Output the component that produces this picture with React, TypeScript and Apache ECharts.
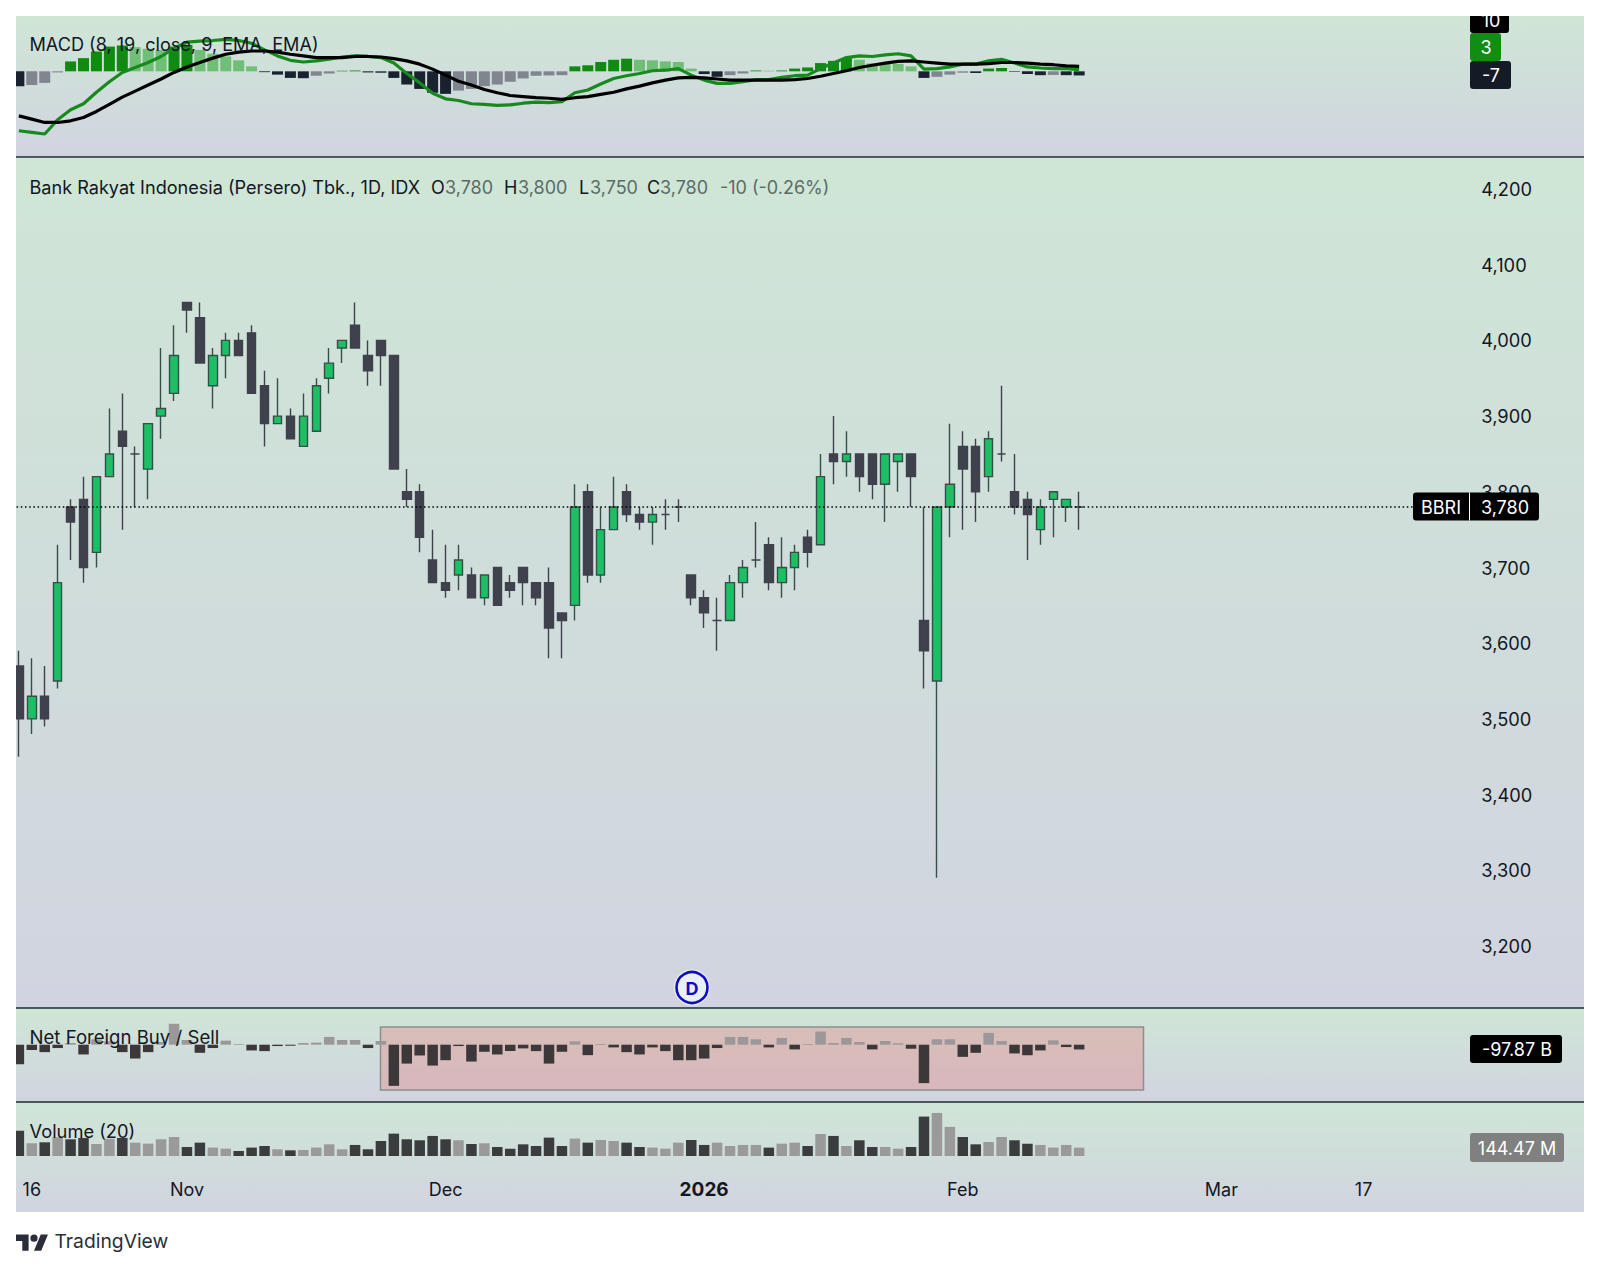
import React, { useEffect, useRef } from "react";
import * as echarts from "echarts";

const open = [3570,3500,3530,3550,3780,3790,3720,3820,3880,3850,3830,3900,3930,4050,4030,3940,3980,4000,4010,3940,3890,3900,3860,3880,3950,3990,4020,3980,4000,3980,3800,3800,3710,3680,3690,3690,3660,3700,3680,3700,3680,3680,3640,3650,3800,3690,3750,3800,3770,3760,3770,3780,3690,3660,3630,3630,3680,3710,3730,3680,3700,3740,3730,3850,3840,3850,3850,3810,3840,3850,3630,3550,3780,3860,3860,3820,3850,3800,3790,3750,3790,3780,3780];
const high = [3590,3580,3570,3730,3790,3820,3820,3910,3930,3860,3890,3990,4020,4050,4050,3990,4010,4010,4020,3960,3950,3910,3930,3950,3990,4000,4050,4000,4000,3980,3830,3810,3750,3730,3730,3700,3690,3700,3690,3700,3680,3700,3640,3810,3810,3780,3820,3810,3780,3780,3790,3790,3690,3670,3660,3690,3710,3760,3740,3740,3730,3750,3850,3900,3880,3850,3850,3850,3850,3850,3780,3780,3890,3880,3870,3880,3940,3850,3800,3790,3800,3790,3800];
const low = [3450,3480,3490,3540,3710,3680,3700,3820,3750,3780,3790,3870,3920,4010,3970,3910,3950,3980,3930,3860,3890,3870,3860,3880,3930,3970,3990,3940,3940,3830,3780,3720,3680,3660,3670,3660,3650,3650,3660,3650,3650,3580,3580,3630,3680,3680,3750,3760,3750,3730,3750,3760,3650,3620,3590,3630,3660,3700,3670,3660,3670,3700,3730,3810,3820,3800,3790,3760,3800,3780,3540,3290,3740,3750,3760,3800,3840,3770,3710,3730,3740,3760,3750];
const close = [3500,3530,3500,3680,3760,3700,3820,3850,3860,3850,3890,3910,3980,4040,3970,3980,4000,3980,3930,3890,3900,3870,3900,3940,3970,4000,3990,3960,3980,3830,3790,3740,3680,3670,3710,3660,3690,3650,3670,3680,3660,3620,3630,3780,3690,3750,3780,3770,3760,3770,3770,3780,3660,3640,3630,3680,3700,3710,3680,3700,3720,3720,3820,3840,3850,3820,3810,3850,3850,3820,3590,3780,3810,3830,3800,3870,3850,3780,3770,3780,3800,3790,3780];

const macdLine = [-108,-111,-114,-88,-70,-59,-38,-19,-2,7,16,27,42,53,55,56,58,56,51,39,28,20,17,19,22,26,28,27,25,15,-4,-21,-40,-50,-53,-59,-60,-62,-61,-58,-56,-57,-55,-39,-34,-23,-13,-8,-4,1,2,5,-7,-16,-22,-22,-19,-15,-15,-11,-8,-7,5,15,25,28,27,30,32,28,4,5,8,13,13,19,22,15,8,6,5,5,3];
const signalLine = [-81,-87,-93,-93,-90,-84,-73,-60,-47,-36,-25,-14,-2,8,16,24,31,35,37,37,35,31,28,25,25,25,27,27,26,23,19,13,4,-7,-18,-25,-33,-39,-44,-46,-48,-49,-51,-48,-46,-42,-38,-32,-27,-21,-16,-12,-11,-12,-14,-16,-16,-16,-16,-16,-15,-13,-9,-4,1,7,11,15,18,19,17,15,13,13,13,14,16,16,15,13,12,10,9];
const macdHist = [-27,-25,-21,-2,18,24,36,45,47,44,41,39,45,48,39,32,27,20,9,-1.5,-6,-12,-12.5,-8,-4,1,1.5,-2,-2.5,-12,-24,-32,-39,-41,-35,-32,-27,-24,-19,-13,-8,-7.5,-7,9,11,17,21,23,21,20,18,17,5,-5,-10,-7,-4,1.5,1,1.5,5,7,15,19,24,21,14.5,14,13.5,9,-12,-10,-6,-2.5,-3,5,6,-1,-5,-7,-6.5,-7,-7.5];
const netForeign = [-403,-111,-153,-69,35,-201,111,69,-153,-285,-153,56,430,97,-167,-69,83,14,-118,-132,-28,-21,35,42,160,97,97,-69,76,-847,-389,-222,-430,-319,-28,-347,-146,-201,-132,-76,-132,-389,-146,69,-215,14,-56,-153,-201,-56,-132,-319,-319,-285,-69,160,160,111,-56,139,-97,14,271,35,139,56,-97,76,28,-83,-791,111,111,-250,-167,243,76,-180,-215,-118,90,-49,-98];
const volume = [439,220,237,324,289,312,208,295,312,231,214,289,329,156,231,145,127,87,145,173,116,98,104,145,202,116,191,116,260,387,289,272,347,289,272,208,220,156,127,202,173,318,173,301,231,277,260,231,156,145,127,231,277,191,231,173,191,191,145,214,231,173,381,347,173,272,156,156,127,156,682,745,503,329,202,243,329,272,214,191,145,191,144.47];

const slotCount = 109;
const categories = Array.from({ length: slotCount }, (_, i) => String(i));
const timeTickSlots = [1, 13, 33, 53, 73, 93, 104];
const timeTickLabels = ["16", "Nov", "Dec", "2026", "Feb", "Mar", "17"];
const lastPrice = 3780;

const FONT = "Inter";
const INK = "#131722";
const MUTED = "#5b6b66";
const LEFT = 12.4;
const WIDTH = 1409.4;

const TV_LOGO = "M14 22H7V11H0V4h14v18zM28 22h-8l7.5-18h8L28 22zM20 4a4 4 0 1 0 0 8a4 4 0 1 0 0-8z";
echarts.graphic.registerShape("tvlogo", echarts.graphic.extendPath(TV_LOGO, {}) as any);

const paneGradient = () =>
  new echarts.graphic.LinearGradient(0, 0, 0, 1, [
    { offset: 0, color: "#cfe6d6" },
    { offset: 1, color: "#d1d4e0" },
  ]);

const pane = (y: number, h: number) => ({
  type: "rect",
  z: -10,
  silent: true,
  shape: { x: 16, y, width: 1568, height: h },
  style: { fill: paneGradient() },
});
const divider = (y: number) => ({
  type: "line",
  z: 60,
  silent: true,
  shape: { x1: 16, y1: y, x2: 1584, y2: y },
  style: { stroke: "#1d2b2f", lineWidth: 1.5 },
});
const txt = (text: string, x: number, y: number, fill = INK, size = 18, align = "left", weight = 400) => ({
  type: "text",
  z: 120,
  silent: true,
  x,
  y,
  style: { text, fill, font: `${weight} ${size}px ${FONT}`, align, verticalAlign: "middle" },
});
const box = (x: number, y: number, w: number, h: number, fill: string) => ({
  type: "rect",
  z: 110,
  silent: true,
  shape: { x, y, width: w, height: h, r: 3 },
  style: { fill },
});

const histColor = (i: number) => {
  const v = macdHist[i];
  const prev = i > 0 ? macdHist[i - 1] : v + 1;
  if (v >= 0) return v > prev ? "#118a12" : "#6fbf76";
  return v < prev ? "#1a2230" : "#80858f";
};

export default function App() {
  const ref = useRef<HTMLDivElement>(null);
  useEffect(() => {
    const chart = echarts.init(ref.current!, undefined, { renderer: "svg" });
    const hiddenX = (gridIndex: number) => ({
      type: "category",
      gridIndex,
      data: categories,
      boundaryGap: true,
      axisLine: { show: false },
      axisTick: { show: false },
      axisLabel: { show: false },
      splitLine: { show: false },
    });
    const hiddenY = (gridIndex: number, min: number, max: number) => ({
      type: "value",
      gridIndex,
      min,
      max,
      show: false,
      splitLine: { show: false },
    });
    chart.setOption({
      animation: false,
      backgroundColor: "#ffffff",
      textStyle: { fontFamily: FONT },
      grid: [
        { left: LEFT, width: WIDTH, top: 16, height: 141 },
        { left: LEFT, width: WIDTH, top: 189, height: 757 },
        { left: LEFT, width: WIDTH, top: 1008, height: 94 },
        { left: LEFT, width: WIDTH, top: 1103, height: 53 },
      ],
      xAxis: [
        hiddenX(0),
        hiddenX(1),
        hiddenX(2),
        {
          ...hiddenX(3),
          axisLabel: {
            show: true,
            margin: 24,
            hideOverlap: false,
            color: INK,
            fontFamily: FONT,
            fontSize: 18,
            interval: (i: number) => timeTickSlots.includes(i),
            formatter: (_: string, i: number) => {
              const k = timeTickSlots.indexOf(i);
              if (k < 0) return "";
              const l = timeTickLabels[k];
              return l === "2026" ? `{b|${l}}` : l;
            },
            rich: { b: { fontWeight: 700, fontSize: 19, color: INK, fontFamily: FONT } },
          },
        },
      ],
      yAxis: [
        hiddenY(0, -155.8, 100.6),
        {
          type: "value",
          gridIndex: 1,
          position: "right",
          min: 3200,
          max: 4200,
          interval: 100,
          axisLine: { show: false },
          axisTick: { show: false },
          splitLine: { show: false },
          axisLabel: {
            margin: 59.5,
            color: INK,
            fontFamily: FONT,
            fontSize: 18.3,
            formatter: (v: number) => v.toLocaleString("en-US"),
          },
        },
        hiddenY(2, -1179, 755),
        hiddenY(3, 0, 917),
      ],
      series: [
        {
          type: "bar",
          name: "Histogram",
          xAxisIndex: 0,
          yAxisIndex: 0,
          barWidth: 11,
          data: macdHist.map((v, i) => ({ value: v, itemStyle: { color: histColor(i) } })),
        },
        {
          type: "line",
          name: "MACD",
          xAxisIndex: 0,
          yAxisIndex: 0,
          showSymbol: false,
          z: 4,
          lineStyle: { color: "#178a1e", width: 3.2 },
          data: macdLine,
        },
        {
          type: "line",
          name: "Signal",
          xAxisIndex: 0,
          yAxisIndex: 0,
          showSymbol: false,
          z: 5,
          lineStyle: { color: "#000000", width: 3.2 },
          data: signalLine,
        },
        {
          type: "candlestick",
          name: "BBRI",
          xAxisIndex: 1,
          yAxisIndex: 1,
          barWidth: 9,
          itemStyle: {
            color: "#1cbf63",
            color0: "#3f414c",
            borderColor: "#35504a",
            borderColor0: "#3f414c",
            borderColorDoji: "#3f414c",
            borderWidth: 1.4,
          },
          data: open.map((o, i) => [o, close[i], low[i], high[i]]),
          markLine: {
            silent: true,
            symbol: "none",
            animation: false,
            label: { show: false },
            lineStyle: { color: "#000000", type: [1.5, 2.7], width: 1.5 },
            data: [{ yAxis: lastPrice }],
          },
        },
        {
          type: "bar",
          name: "Net Foreign Buy / Sell",
          xAxisIndex: 2,
          yAxisIndex: 2,
          barWidth: 10.5,
          data: netForeign.map((v) => ({ value: v, itemStyle: { color: v < 0 ? "#3c383a" : "#9c9899" } })),
        },
        {
          type: "bar",
          name: "Volume",
          xAxisIndex: 3,
          yAxisIndex: 3,
          barWidth: 10.5,
          data: volume.map((v, i) => ({ value: v, itemStyle: { color: close[i] < open[i] ? "#3a3c3e" : "#9a9a9a" } })),
        },
      ],
      graphic: [
        pane(16, 141),
        pane(158, 850),
        pane(1008, 94),
        pane(1102, 110),
        divider(157),
        divider(1008),
        divider(1102),
        {
          type: "rect",
          z: -5,
          silent: true,
          shape: { x: 380.5, y: 1027, width: 763, height: 63 },
          style: { fill: "rgba(226,140,140,0.42)", stroke: "#8e8e8e", lineWidth: 1.5 },
        },
        box(1470, 5, 39, 28, "#000000"),
        txt("10", 1491, 20, "#ffffff", 18, "center"),
        box(1470, 33, 31, 28, "#128c12"),
        txt("3", 1486, 47, "#ffffff", 18, "center"),
        box(1470, 61, 41, 28, "#151b26"),
        txt("-7", 1491, 75, "#ffffff", 18, "center"),
        box(1413, 492.5, 126, 28, "#000000"),
        {
          type: "line",
          z: 115,
          silent: true,
          shape: { x1: 1469.5, y1: 492.5, x2: 1469.5, y2: 520.5 },
          style: { stroke: "#ffffff", lineWidth: 1 },
        },
        txt("BBRI", 1441, 507, "#ffffff", 18, "center"),
        txt("3,780", 1505, 507, "#ffffff", 18, "center"),
        box(1470, 1035, 92, 28, "#000000"),
        txt("-97.87 B", 1517, 1049, "#ffffff", 18, "center"),
        box(1470, 1133, 94, 29, "#808080"),
        txt("144.47 M", 1517, 1148, "#ffffff", 18, "center"),
        txt("MACD (8, 19, close, 9, EMA, EMA)", 29.5, 44, INK, 18.1),
        txt("Bank Rakyat Indonesia (Persero) Tbk., 1D, IDX", 29.5, 187, INK, 18.1),
        txt("O", 431, 187),
        txt("3,780", 445, 187, MUTED),
        txt("H", 504, 187),
        txt("3,800", 518, 187, MUTED),
        txt("L", 579, 187),
        txt("3,750", 590, 187, MUTED),
        txt("C", 647, 187),
        txt("3,780", 660, 187, MUTED),
        txt("-10 (-0.26%)", 720, 187, MUTED),
        txt("Net Foreign Buy / Sell", 29.5, 1037, INK, 18.6),
        txt("Volume (20)", 29.5, 1131, INK, 18.3),
        {
          type: "circle",
          z: 70,
          silent: true,
          shape: { cx: 692, cy: 987.5, r: 18 },
          style: { fill: "#eceef6" },
        },
        {
          type: "circle",
          z: 71,
          silent: true,
          shape: { cx: 692, cy: 987.5, r: 15.5 },
          style: { fill: "#eceef6", stroke: "#0e0ebf", lineWidth: 2.6 },
        },
        { ...txt("D", 692, 988, "#0e0ebf", 18, "center", 700), z: 72 },
        {
          type: "rect",
          z: 150,
          silent: true,
          shape: { x: 0, y: 0, width: 16, height: 1270 },
          style: { fill: "#ffffff" },
        },
        {
          type: "rect",
          z: 150,
          silent: true,
          shape: { x: 0, y: 0, width: 1600, height: 16 },
          style: { fill: "#ffffff" },
        },
        {
          type: "tvlogo",
          z: 160,
          silent: true,
          x: 16,
          y: 1231,
          scaleX: 0.9,
          scaleY: 0.9,
          style: { fill: "#2a2e39" },
        },
        txt("TradingView", 54.5, 1241, "#2a2e39", 19.3, "left", 400),
      ],
    });
    return () => chart.dispose();
  }, []);
  return <div ref={ref} style={{ position: "absolute", left: 0, top: 0, width: 1600, height: 1270 }} />;
}
